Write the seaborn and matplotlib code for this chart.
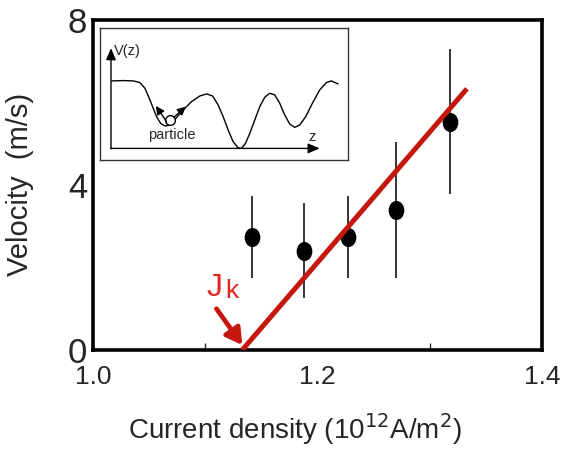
import numpy as np
import pandas as pd
from matplotlib import pyplot as plt
from matplotlib.path import Path
from matplotlib.transforms import Affine2D
import seaborn as sns

# measured points
current = [1.142, 1.188, 1.227, 1.270, 1.318]
velocity = [2.74, 2.40, 2.74, 3.39, 5.53]
vel_err = [1.00, 1.15, 1.00, 1.65, 1.76]

# linear fit, starts at J_k
fit_x = [1.133, 1.333]
fit_y = [0.0, 6.33]

# inset sketch of the potential V(z) (inset pixel units)
pot_z = [65, 100, 130, 150, 165, 178, 190, 200, 212, 225, 240, 258, 280, 305, 330,
         350, 368, 385, 400, 415, 430, 445, 455, 467, 480, 495, 510, 525, 540, 555,
         570, 585, 600, 615, 630, 648, 668, 690, 710, 725, 745]
pot_v = [183, 182, 183, 188, 205, 235, 265, 290, 310, 318, 315, 295, 270, 245, 228,
         222, 228, 255, 290, 330, 365, 383, 385, 370, 340, 300, 260, 232, 220, 225,
         250, 285, 312, 322, 315, 290, 250, 210, 188, 183, 192]

df = pd.DataFrame({"current": current, "velocity": velocity, "err": vel_err})
fit = pd.DataFrame({"current": fit_x, "velocity": fit_y})

sns.set_style("white")
plt.rcParams["font.family"] = ["Liberation Sans", "DejaVu Sans"]

fig = plt.figure(figsize=(5.63, 4.51), dpi=100)
ax = fig.add_axes([0.165, 0.224, 0.798, 0.732])

ax.errorbar(df["current"], df["velocity"], yerr=df["err"], fmt="none",
            ecolor="black", elinewidth=1.1, capsize=0, zorder=2)
ellipse = Path.unit_circle().transformed(Affine2D().scale(0.82, 1.0))
sns.scatterplot(data=df, x="current", y="velocity", marker=ellipse, s=190,
                color="black", edgecolor="black", linewidth=0, ax=ax, zorder=3)
sns.lineplot(data=fit, x="current", y="velocity", color="#c4170e", linewidth=3.6,
             ax=ax, zorder=4, solid_capstyle="butt")

ax.set_xlim(1.0, 1.4)
ax.set_ylim(0, 8)
ax.set_xticks([1.0, 1.2, 1.4])
ax.set_xticklabels(["1.0", "1.2", "1.4"])
ax.set_xticks([1.1, 1.3], minor=True)
ax.set_yticks([0, 4, 8])
ax.tick_params(axis="x", which="major", direction="in", length=9, width=1.2,
               labelsize=19, pad=11, top=False)
ax.tick_params(axis="x", which="minor", direction="in", length=5, width=1.0, bottom=True)
ax.tick_params(axis="y", which="major", direction="in", length=8, width=1.2,
               labelsize=25, pad=4, right=False)
for s in ax.spines.values():
    s.set_linewidth(2.6)
    s.set_color("black")

ax.set_xlabel("Current density (10$^{12}$A/m$^{2}$)", fontsize=20)
ax.xaxis.set_label_coords(0.45, -0.185)
ax.set_ylabel("Velocity  (m/s)", fontsize=21)
ax.yaxis.set_label_coords(-0.13, 0.5)

# J_k label and arrow
ax.text(1.101, 1.3, "J", color="#e3261c", fontsize=23, ha="left", va="baseline")
ax.text(1.1175, 1.25, "k", color="#e3261c", fontsize=19, ha="left", va="baseline")
ax.annotate("", xy=(1.133, 0.12), xytext=(1.11, 1.0),
            arrowprops=dict(arrowstyle="-|>,head_length=0.95,head_width=0.55",
                            color="#c4170e", lw=3.4, shrinkA=0, shrinkB=0))

# inset with the potential landscape
ins = fig.add_axes([0.1776, 0.645, 0.4405, 0.2927])
ins.set_xlim(30, 775)
ins.set_ylim(420, 25)
ins.set_xticks([])
ins.set_yticks([])
for s in ins.spines.values():
    s.set_linewidth(1.0)
    s.set_color("#333333")
sns.lineplot(x=pot_z, y=pot_v, color="black", linewidth=1.0, ax=ins, sort=False)
ins.annotate("", xy=(63, 85), xytext=(63, 386),
             arrowprops=dict(arrowstyle="-|>,head_length=0.7,head_width=0.3",
                             color="black", lw=1.0, shrinkA=0, shrinkB=0))
ins.annotate("", xy=(690, 385), xytext=(62, 385),
             arrowprops=dict(arrowstyle="-|>,head_length=0.7,head_width=0.3",
                             color="black", lw=1.0, shrinkA=0, shrinkB=0))
ins.annotate("", xy=(198, 258), xytext=(230, 305),
             arrowprops=dict(arrowstyle="-|>,head_length=0.5,head_width=0.25",
                             color="black", lw=1.0, shrinkA=0, shrinkB=0))
ins.annotate("", xy=(288, 260), xytext=(252, 292),
             arrowprops=dict(arrowstyle="-|>,head_length=0.5,head_width=0.25",
                             color="black", lw=1.0, shrinkA=0, shrinkB=0))
ins.plot([240], [300], marker="o", markersize=7, markerfacecolor="white",
         markeredgecolor="black", markeredgewidth=1.0)
ins.text(72, 95, "V(z)", fontsize=10.5, ha="left", va="center")
ins.text(245, 345, "particle", fontsize=10.5, ha="center", va="center")
ins.text(668, 350, "z", fontsize=10.5, ha="center", va="center")

plt.savefig("out.png", dpi=100)
